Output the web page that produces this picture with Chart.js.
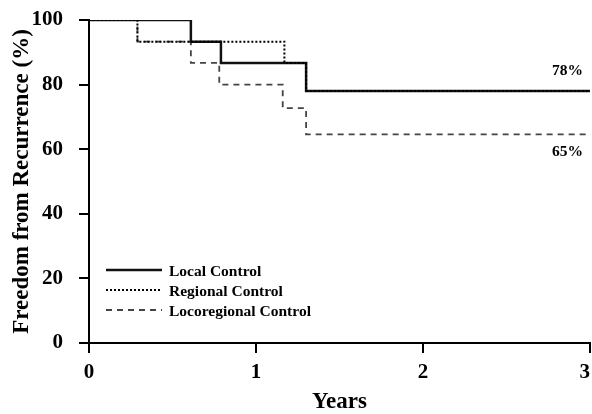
<!DOCTYPE html>
<html>
<head>
<meta charset="utf-8">
<script src="https://cdn.jsdelivr.net/npm/chart.js@4.4.1/dist/chart.umd.min.js"></script>
<style>
  html, body { margin: 0; padding: 0; background: #fff; }
  canvas { display: block; }
</style>
</head>
<body>
<canvas id="km-chart" width="592" height="414"></canvas>
<script>
// Kaplan-Meier curves (years, % free from recurrence)
const seriesNames = ['Local Control', 'Regional Control', 'Locoregional Control'];
const localTimes = [0, 0.61, 0.79, 1.30, 3];
const localValues = [100, 93.3, 86.7, 78.0, 78.0];
const regionalTimes = [0, 0.29, 1.17, 1.30, 3];
const regionalValues = [100, 93.3, 86.7, 78.0, 78.0];
const locoTimes = [0, 0.29, 0.61, 0.78, 1.16, 1.30, 3];
const locoValues = [100, 93.3, 86.7, 80.0, 72.7, 64.6, 64.6];
const endLabels = ['78%', '', '65%'];
const xTicks = [0, 1, 2, 3];
const yTicks = [0, 20, 40, 60, 80, 100];

const serif = '"Liberation Serif", "Times New Roman", serif';

function toPoints(times, values) {
    return times.map((t, i) => ({x: t, y: values[i]}));
}

// legend drawn inside the plot, bottom left
const insideLegend = {
    id: 'insideLegend',
    afterDatasetsDraw(chart) {
        const ctx = chart.ctx;
        const area = chart.chartArea;
        ctx.save();
        ctx.font = 'bold 15.5px ' + serif;
        ctx.textBaseline = 'middle';
        ctx.fillStyle = '#000';
        chart.data.datasets.forEach((ds, i) => {
            const y = area.bottom - 73 + i * 20;
            const x0 = area.left + 17;
            ctx.strokeStyle = ds.borderColor;
            ctx.lineWidth = ds.borderWidth;
            ctx.setLineDash(ds.borderDash || []);
            ctx.beginPath();
            ctx.moveTo(x0, y);
            ctx.lineTo(x0 + 56, y);
            ctx.stroke();
            ctx.setLineDash([]);
            ctx.fillText(ds.label, x0 + 63, y + 2);
        });
        ctx.restore();
    }
};

// percentage labels at the right end of the curves
const endLabelPlugin = {
    id: 'endLabels',
    afterDatasetsDraw(chart) {
        const ctx = chart.ctx;
        const xs = chart.scales.x;
        const ys = chart.scales.y;
        ctx.save();
        ctx.font = 'bold 15.5px ' + serif;
        ctx.fillStyle = '#000';
        ctx.textAlign = 'right';
        ctx.textBaseline = 'middle';
        chart.data.datasets.forEach((ds, i) => {
            if (!endLabels[i]) return;
            const last = ds.data[ds.data.length - 1];
            const px = xs.getPixelForValue(last.x) - 7;
            const py = ys.getPixelForValue(last.y) + (i === 0 ? -20 : 18);
            ctx.fillText(endLabels[i], px, py);
        });
        ctx.restore();
    }
};

const ctx = document.getElementById('km-chart').getContext('2d');
new Chart(ctx, {
    type: 'line',
    data: {
        datasets: [{
            label: seriesNames[0],
            data: toPoints(localTimes, localValues),
            borderColor: '#111',
            borderWidth: 2.5,
            stepped: 'before',
            pointRadius: 0,
            order: 1
        }, {
            label: seriesNames[1],
            data: toPoints(regionalTimes, regionalValues),
            borderColor: '#000',
            borderWidth: 2,
            borderDash: [2, 2],
            stepped: 'before',
            pointRadius: 0,
            order: 0
        }, {
            label: seriesNames[2],
            data: toPoints(locoTimes, locoValues),
            borderColor: '#444',
            borderWidth: 1.8,
            borderDash: [6, 5],
            stepped: 'before',
            pointRadius: 0,
            order: 2
        }]
    },
    options: {
        responsive: false,
        animation: false,
        layout: {padding: {left: 0, top: 20, right: 2, bottom: 0}},
        plugins: {
            legend: {display: false},
            tooltip: {enabled: false}
        },
        scales: {
            x: {
                type: 'linear',
                min: 0,
                max: 3,
                afterBuildTicks: s => { s.ticks = xTicks.map(v => ({value: v})); },
                afterFit: s => { s.height = 71; s.paddingLeft = 0; s.paddingRight = 0; },
                border: {display: true, color: '#000', width: 2},
                grid: {display: true, drawOnChartArea: false, drawTicks: true, tickLength: 10, color: '#000', lineWidth: 2},
                ticks: {
                    color: '#000', padding: 7, maxRotation: 0,
                    font: {family: serif, size: 21, weight: 'bold'},
                    // keep the last label inside the canvas
                    callback: v => (v === 3 ? '3\u2002' : String(v))
                },
                title: {display: true, text: 'Years', color: '#000', padding: {top: 0, bottom: 0}, font: {family: serif, size: 23, weight: 'bold', lineHeight: 1}}
            },
            y: {
                min: 0,
                max: 100,
                afterBuildTicks: s => { s.ticks = yTicks.map(v => ({value: v})); },
                afterFit: s => { s.width = 89; s.paddingTop = 0; s.paddingBottom = 0; },
                border: {display: true, color: '#000', width: 2},
                grid: {display: true, drawOnChartArea: false, drawTicks: true, tickLength: 10, color: '#000', lineWidth: 2},
                ticks: {color: '#000', padding: 16, font: {family: serif, size: 21, weight: 'bold'}},
                title: {display: true, text: 'Freedom from Recurrence (%)', color: '#000', padding: {top: 10.5, bottom: 0}, font: {family: serif, size: 23, weight: 'bold', lineHeight: 1}}
            }
        }
    },
    plugins: [insideLegend, endLabelPlugin]
});
</script>
</body>
</html>
